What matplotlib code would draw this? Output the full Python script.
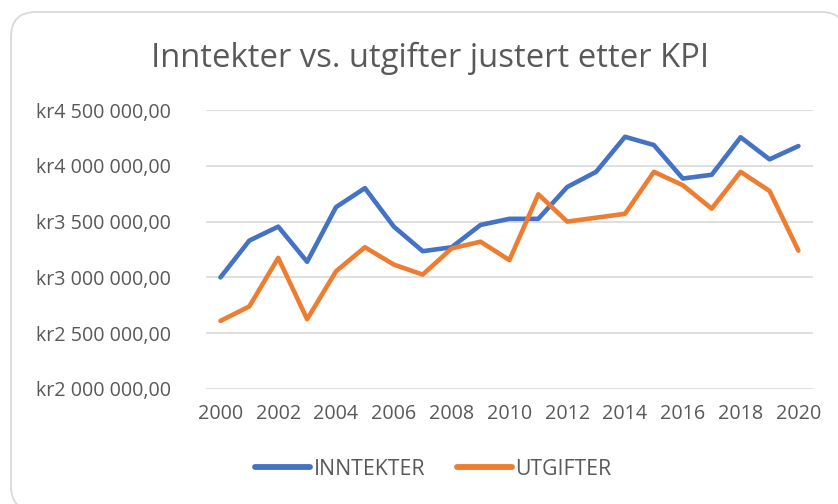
import matplotlib
matplotlib.use("Agg")
import matplotlib.pyplot as plt
from matplotlib.patches import FancyBboxPatch
from matplotlib.ticker import FuncFormatter

years = list(range(2000, 2021))
inntekter = [3.00, 3.33, 3.455, 3.14, 3.63, 3.80, 3.455, 3.235, 3.27, 3.47, 3.525,
             3.525, 3.81, 3.946, 4.26, 4.186, 3.886, 3.92, 4.256, 4.058, 4.177]
utgifter = [2.61, 2.74, 3.175, 2.625, 3.055, 3.27, 3.115, 3.025, 3.26, 3.32, 3.155,
            3.745, 3.50, 3.535, 3.57, 3.946, 3.826, 3.616, 3.946, 3.775, 3.24]
inntekter = [v * 1e6 for v in inntekter]
utgifter = [v * 1e6 for v in utgifter]
x_ticks = list(range(2000, 2021, 2))
y_ticks = [2.0e6, 2.5e6, 3.0e6, 3.5e6, 4.0e6, 4.5e6]

BLUE = "#4472C4"
ORANGE = "#ED7D31"
TEXT = "#595959"
GRID = "#D9D9D9"

plt.rcParams["font.family"] = ["Open Sans", "DejaVu Sans"]

fig = plt.figure(figsize=(8.38, 5.04), dpi=100)
# rounded chart-area border (Excel style), in inches so the corners stay circular
frame = FancyBboxPatch((0.11, -0.07), 8.35, 4.99, transform=fig.dpi_scale_trans,
                       boxstyle="round,pad=0,rounding_size=0.25",
                       facecolor="white", edgecolor=GRID, linewidth=1.3, zorder=-1)
fig.patches.append(frame)

ax = fig.add_axes([0.2458, 0.2282, 0.7242, 0.5535])
ax.set_facecolor("none")
ax.plot(years, inntekter, color=BLUE, linewidth=3.3, label="INNTEKTER",
        solid_joinstyle="round", solid_capstyle="round")
ax.plot(years, utgifter, color=ORANGE, linewidth=3.3, label="UTGIFTER",
        solid_joinstyle="round", solid_capstyle="round")

ax.set_xlim(1999.5, 2020.5)
ax.set_ylim(2.0e6, 4.5e6)
ax.set_xticks(x_ticks)
ax.set_yticks(y_ticks)


def kr(v, _pos):
    s = f"{v:,.2f}".replace(",", " ").replace(".", ",")
    return "kr" + s


ax.yaxis.set_major_formatter(FuncFormatter(kr))
ax.grid(axis="y", color=GRID, linewidth=1.2)
ax.set_axisbelow(True)
for side in ax.spines.values():
    side.set_visible(False)
ax.tick_params(length=0, colors=TEXT, labelsize=14.2)
ax.tick_params(axis="y", pad=25)
ax.tick_params(axis="x", pad=11)

fig.text(0.513, 0.885, "Inntekter vs. utgifter justert etter KPI", ha="center",
         va="center", fontsize=23.6, color=TEXT)

leg = fig.legend(loc="center", bbox_to_anchor=(0.517, 0.069), ncol=2, frameon=False,
                 fontsize=15.3, handlelength=2.6, handletextpad=0.15, columnspacing=1.5,
                 labelcolor=TEXT)
for line in leg.get_lines():
    line.set_linewidth(4.2)
    line.set_solid_capstyle("round")

fig.savefig("out.png", dpi=100)
